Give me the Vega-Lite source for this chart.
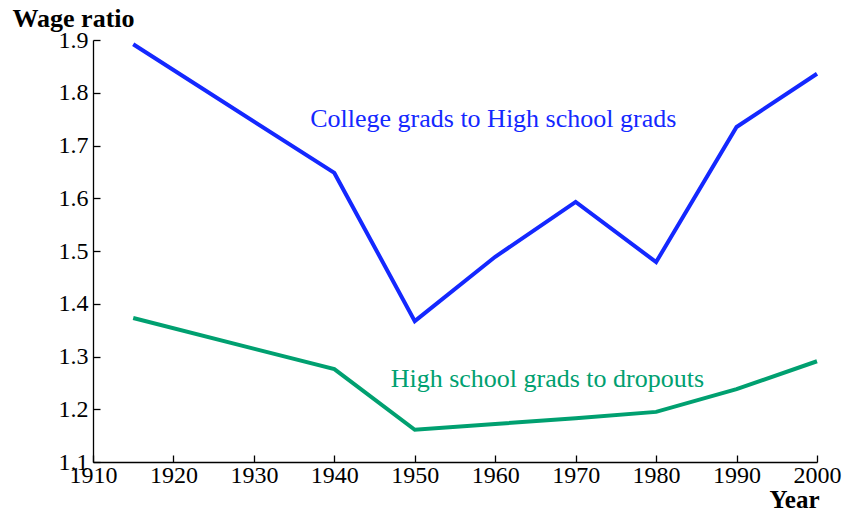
{
  "$schema": "https://vega.github.io/schema/vega-lite/v6.json",
  "width": 724,
  "height": 422,
  "autosize": {"type": "none"},
  "padding": {"left": 93, "top": 40, "right": 28, "bottom": 51},
  "config": {
    "view": {"stroke": null},
    "font": "Liberation Serif"
  },
  "datasets": {
    "series": [
      {"year": 1915, "ratio": 1.892, "series": "College"},
      {"year": 1940, "ratio": 1.648, "series": "College"},
      {"year": 1950, "ratio": 1.367, "series": "College"},
      {"year": 1960, "ratio": 1.489, "series": "College"},
      {"year": 1970, "ratio": 1.593, "series": "College"},
      {"year": 1980, "ratio": 1.479, "series": "College"},
      {"year": 1990, "ratio": 1.735, "series": "College"},
      {"year": 2000, "ratio": 1.836, "series": "College"},
      {"year": 1915, "ratio": 1.373, "series": "HS"},
      {"year": 1940, "ratio": 1.276, "series": "HS"},
      {"year": 1950, "ratio": 1.161, "series": "HS"},
      {"year": 1960, "ratio": 1.172, "series": "HS"},
      {"year": 1970, "ratio": 1.183, "series": "HS"},
      {"year": 1980, "ratio": 1.195, "series": "HS"},
      {"year": 1990, "ratio": 1.238, "series": "HS"},
      {"year": 2000, "ratio": 1.291, "series": "HS"}
    ],
    "labels": [
      {"year": 1937, "ratio": 1.735, "series": "College", "text": "College grads to High school grads"},
      {"year": 1947, "ratio": 1.242, "series": "HS", "text": "High school grads to dropouts"}
    ]
  },
  "layer": [
    {
      "data": {"name": "series"},
      "mark": {"type": "line", "strokeWidth": 4, "clip": false},
      "encoding": {
        "x": {
          "field": "year", "type": "quantitative",
          "scale": {"domain": [1910, 2000], "nice": false, "zero": false},
          "axis": {
            "values": [1910, 1920, 1930, 1940, 1950, 1960, 1970, 1980, 1990, 2000],
            "format": "d",
            "grid": false,
            "domainColor": "black",
            "domainWidth": 1.3,
            "tickColor": "black",
            "tickWidth": 1.3,
            "tickSize": -7,
            "labelPadding": 8,
            "labelFontSize": 24,
            "labelColor": "black",
            "labelFont": "Liberation Serif",
            "labelFlush": false,
            "labelOverlap": false,
            "title": "Year",
            "titleFont": "Liberation Serif",
            "titleFontSize": 25,
            "titleFontWeight": "bold",
            "titleColor": "black",
            "titleAnchor": "end",
            "titleAlign": "right",
            "titleX": 726,
            "titleY": 45,
            "titleBaseline": "alphabetic"
          }
        },
        "y": {
          "field": "ratio", "type": "quantitative",
          "scale": {"domain": [1.1, 1.9], "nice": false, "zero": false},
          "axis": {
            "values": [1.1, 1.2, 1.3, 1.4, 1.5, 1.6, 1.7, 1.8, 1.9],
            "format": ".1f",
            "grid": false,
            "domainColor": "black",
            "domainWidth": 1.3,
            "tickColor": "black",
            "tickWidth": 1.3,
            "tickSize": -7,
            "labelPadding": 12,
            "labelFontSize": 24,
            "labelColor": "black",
            "labelFont": "Liberation Serif",
            "labelFlush": false,
            "labelOverlap": false,
            "title": "Wage ratio",
            "titleFont": "Liberation Serif",
            "titleFontSize": 26,
            "titleFontWeight": "bold",
            "titleColor": "black",
            "titleAngle": 0,
            "titleAlign": "left",
            "titleX": -81,
            "titleY": -14,
            "titleBaseline": "alphabetic"
          }
        },
        "color": {
          "field": "series", "type": "nominal",
          "scale": {"domain": ["College", "HS"], "range": ["#1428ff", "#00a070"]},
          "legend": null
        }
      }
    },
    {
      "data": {"name": "labels"},
      "mark": {"type": "text", "align": "left", "baseline": "alphabetic", "fontSize": 26, "font": "Liberation Serif"},
      "encoding": {
        "x": {"field": "year", "type": "quantitative"},
        "y": {"field": "ratio", "type": "quantitative"},
        "text": {"field": "text"},
        "color": {"field": "series", "type": "nominal", "legend": null}
      }
    }
  ]
}
